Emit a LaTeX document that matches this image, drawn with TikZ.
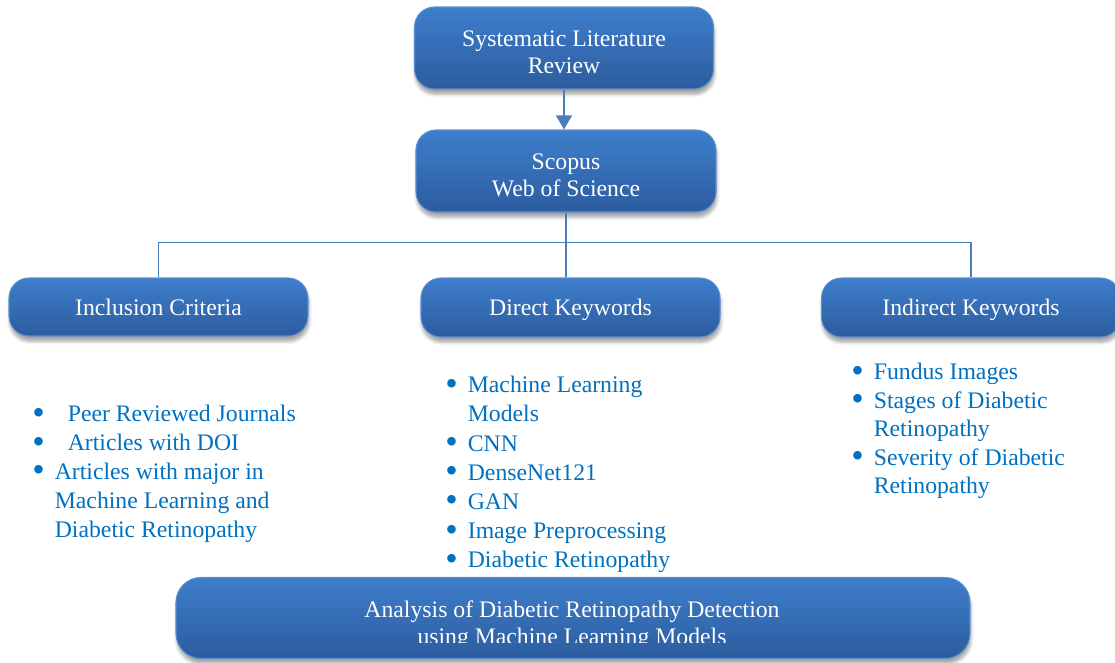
\documentclass[tikz,border=0pt]{standalone}
\usepackage{fontspec}
\setmainfont{Liberation Serif}
\usetikzlibrary{arrows.meta,shadows.blur}
\definecolor{boxtop}{RGB}{62,126,204}
\definecolor{boxbot}{RGB}{44,92,158}
\definecolor{boxrim}{RGB}{92,142,208}
\definecolor{linkblue}{RGB}{74,126,187}
\definecolor{listblue}{RGB}{0,112,192}
\newcommand{\bul}{\makebox[0.45cm][l]{\smash{\raisebox{-0.1em}{\scalebox{1.5}{\textbullet}}}}}
\newcommand{\gap}{\hspace*{0.45cm}}

\begin{document}
\begin{tikzpicture}[
  stagebox/.style={draw=boxrim,line width=0.6pt,rounded corners=0.4cm,
    top color=boxtop,bottom color=boxbot,text=white,align=center,
    font=\fontsize{13.5}{15.5}\selectfont,minimum width=5.98cm,text depth=0pt,
    blur shadow={shadow xshift=0.5pt,shadow yshift=-3pt,shadow blur steps=6,shadow opacity=35}},
  twoline/.style={text height=29.5pt},
  link/.style={linkblue,line width=1.1pt},
  itemlist/.style={anchor=north west,inner sep=0pt,align=left,text=listblue,
    font=\fontsize{13.5}{16.4}\selectfont}]
\useasboundingbox (0,0) rectangle (22.3,-13.24);
% review and sources
\node[stagebox,twoline,minimum height=1.64cm] (slr) at (11.28,-0.96) {Systematic Literature\\Review};
\node[stagebox,twoline,minimum height=1.64cm,minimum width=6cm] (src) at (11.32,-3.42) {Scopus\\Web of Science};
\draw[link,-{Triangle[width=9pt,length=8pt]}] (slr.south) -- (slr.south |- src.north);
% the three branches
\node[stagebox,minimum height=1.16cm] (inc) at (3.17,-6.14) {Inclusion Criteria};
\node[stagebox,minimum height=1.18cm] (dkw) at (11.41,-6.15) {Direct Keywords};
\node[stagebox,minimum height=1.18cm] (ikw) at (19.42,-6.15) {Indirect Keywords};
\draw[link] (src.south) -- (src.south |- dkw.north);
\draw[link] (inc.north) -- ++(0,0.7) -| (ikw.north);
% keyword lists
\node[itemlist] (inclist) at (0.64,-8.1) {\bul\hspace*{0.26cm}Peer Reviewed Journals\\
  \bul\hspace*{0.26cm}Articles with DOI\\
  \bul Articles with major in\\
  \gap Machine Learning and\\
  \gap Diabetic Retinopathy};
\node[itemlist,font=\fontsize{13.5}{16.6}\selectfont] (dkwlist) at (8.9,-7.52) {\bul Machine Learning\\
  \gap Models\\
  \bul CNN\\
  \bul DenseNet121\\
  \bul GAN\\
  \bul Image Preprocessing\\
  \bul Diabetic Retinopathy};
\node[itemlist,font=\fontsize{13.5}{16.2}\selectfont] (ikwlist) at (17.02,-7.26) {\bul Fundus Images\\
  \bul Stages of Diabetic\\
  \gap Retinopathy\\
  \bul Severity of Diabetic\\
  \gap Retinopathy};
% outcome box, text cut off at the bottom
\node[stagebox,minimum width=15.88cm,minimum height=1.62cm,rounded corners=0.5cm] (res) at (11.46,-12.36) {};
\begin{scope}
\clip (3.5,-11.5) rectangle (19.5,-12.84);
\node[text=white,align=center,font=\fontsize{13.5}{15.5}\selectfont] (restxt) at (11.44,-12.5)
  {Analysis of Diabetic Retinopathy Detection\\using Machine Learning Models};
\end{scope}
\end{tikzpicture}
\end{document}
